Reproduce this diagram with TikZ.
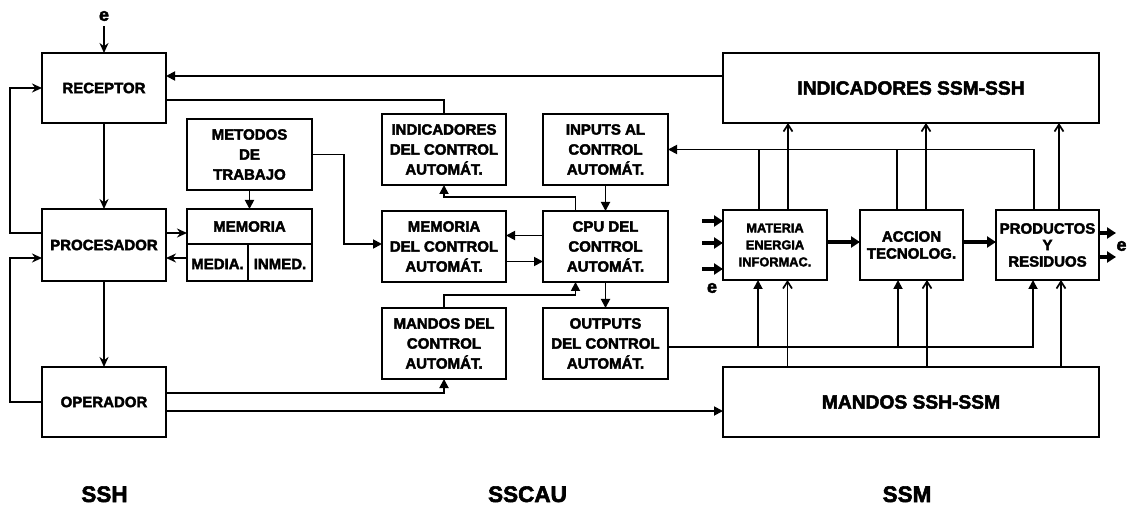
\documentclass[tikz,border=0pt]{standalone}
\usepackage{fontspec}
\setmainfont{Liberation Sans}[BoldFeatures={FakeBold=2.5}]
\usetikzlibrary{arrows.meta,calc}
\begin{document}
\begin{tikzpicture}[x=1pt,y=-1pt,
  box/.style={draw,line width=1.9pt,inner sep=0pt,outer sep=0pt,align=center,
    font=\fontsize{15}{20}\selectfont\bfseries},
  bigbox/.style={box,font=\fontsize{19.2}{22}\selectfont\bfseries},
  ln/.style={line width=1.8pt},
  arr/.style={ln,-{Stealth[length=10pt,width=9pt]}},
  tri/.style={ln,-{Triangle[length=9pt,width=9pt]}},
  barb/.style={ln,-{Straight Barb[length=7pt,width=9pt,line width=1.7pt]}},
  thk/.style={line width=3.4pt,-{Triangle[length=9pt,width=11pt]}},
  lbl/.style={font=\fontsize{15}{18}\selectfont\bfseries,inner sep=0pt},
  elbl/.style={font=\fontsize{18}{20}\selectfont\bfseries,inner sep=0pt},
  sublbl/.style={font=\fontsize{22.5}{26}\selectfont\bfseries,inner sep=0pt,anchor=base},
  ]
\fill[white] (0,0) rectangle (1128,505);
\useasboundingbox (0,0) rectangle (1128,505);

% SSH
\node[box,minimum width=124pt,minimum height=70pt] (rec) at (104,88) {RECEPTOR};
\node[box,minimum width=124pt,minimum height=72pt] (pro) at (104,245) {PROCESADOR};
\node[box,minimum width=124pt,minimum height=70pt] (ope) at (104,402) {OPERADOR};
\node[box,minimum width=125pt,minimum height=71pt] (met) at (249.5,154.5) {METODOS\\DE\\TRABAJO};
\node[box,minimum width=125pt,minimum height=72pt] (mem) at (249.5,245) {};
\node[lbl] (memt) at (249.5,226.5) {MEMORIA};
\node[lbl] (memm) at (217.5,264) {MEDIA.};
\node[lbl] (memi) at (280,264) {INMED.};
\draw[line width=1.9pt] ([yshift=1pt]mem.west) -- ([yshift=1pt]mem.east);
\draw[line width=1.9pt] ([xshift=-1.5pt]mem.south) -- ++(0,-37);

% SSCAU
\node[box,minimum width=124pt,minimum height=71pt] (ind) at (444,149.5) {INDICADORES\\DEL CONTROL\\AUTOMÁT.};
\node[box,minimum width=125pt,minimum height=71pt] (inp) at (605.5,149.5) {INPUTS AL\\CONTROL\\AUTOMÁT.};
\node[box,minimum width=124pt,minimum height=71pt] (memc) at (444,246.5) {MEMORIA\\DEL CONTROL\\AUTOMÁT.};
\node[box,minimum width=125pt,minimum height=71pt] (cpu) at (605.5,246.5) {CPU DEL\\CONTROL\\AUTOMÁT.};
\node[box,minimum width=124pt,minimum height=71pt] (manc) at (444,343.5) {MANDOS DEL\\CONTROL\\AUTOMÁT.};
\node[box,minimum width=125pt,minimum height=71pt] (out) at (605.5,343.5) {OUTPUTS\\DEL CONTROL\\AUTOMÁT.};

% SSM
\node[bigbox,minimum width=376pt,minimum height=70pt] (issm) at (911,88) {INDICADORES SSM-SSH};
\node[box,minimum width=104pt,minimum height=70pt,font=\fontsize{12.8}{17}\selectfont\bfseries] (mat) at (775,245) {MATERIA\\ENERGIA\\INFORMAC.};
\node[box,minimum width=103pt,minimum height=70pt,font=\fontsize{15}{17}\selectfont\bfseries] (acc) at (911.5,245) {ACCION\\TECNOLOG.};
\node[box,minimum width=103pt,minimum height=70pt,font=\fontsize{15}{16.5}\selectfont\bfseries] (prod) at (1047.5,245) {PRODUCTOS\\Y\\RESIDUOS};
\node[bigbox,minimum width=376pt,minimum height=70pt] (mssm) at (911,402) {MANDOS SSH-SSM};

% labels
\node[elbl] (etop) at (104,16) {e};
\node[elbl] (ein) at (712,288) {e};
\node[elbl] (eout) at (1121.5,246) {e};
\node[sublbl] (lssh) at (104.5,502) {SSH};
\node[sublbl] (lscau) at (527.5,502) {SSCAU};
\node[sublbl] (lssm) at (907,502) {SSM};

% SSH connectors
\draw[arr,shorten <=5pt] (etop) -- (rec.north);
\draw[arr] (rec) -- (pro);
\draw[arr] (pro) -- (ope);
\draw[arr] ([yshift=12pt]pro.west) -- ++(-32,0) |- (rec.west);
\draw[arr] (ope.west) -- ++(-32,0) |- ([yshift=-13pt]pro.west);
\draw[arr] ([yshift=12pt]pro.east) -- ([yshift=12pt]mem.west);
\draw[arr] ([yshift=-13pt]mem.west) -- ([yshift=-13pt]pro.east);
\draw[tri] (met) -- (mem);
\draw[tri] (met.east) -| ([xshift=-38pt,yshift=2.5pt]memc.west) -- ([yshift=2.5pt]memc.west);
\draw[ln] ([yshift=-12pt]rec.east) -| (ind.north);
\draw[tri] ([yshift=12pt]issm.west) -- ([yshift=12pt]rec.east);

% SSCAU connectors
\draw[tri] ([xshift=-30pt]cpu.north) -- ++(0,-14) -| (ind.south);
\draw[tri] (inp) -- (cpu);
\draw[tri] ([yshift=11pt]cpu.west) -- ([yshift=11pt]memc.east);
\draw[tri] ([yshift=-15pt]memc.east) -- ([yshift=-15pt]cpu.west);
\draw[tri] (cpu) -- (out);
\draw[tri] (manc.north) -- ++(0,-13) -| ([xshift=-30pt]cpu.south);
\draw[tri] ([yshift=9pt]ope.east) -| (manc.south);
\draw[tri] ([yshift=-9pt]ope.east) -- ([yshift=-9pt]mssm.west);

% SSM connectors
\coordinate (busb) at ([yshift=-3.5pt]out.east);
\coordinate (ma) at ($(mat.south)+(-17,0)$);
\coordinate (aa) at ($(acc.south)+(-13.5,0)$);
\coordinate (pa) at ($(prod.south)+(-14.5,0)$);
\draw[tri] (busb) -| (pa);
\draw[tri] (ma |- busb) -- (ma);
\draw[tri] (aa |- busb) -- (aa);

\coordinate (mb) at ($(mat.south)+(12.5,0)$);
\coordinate (ab) at ($(acc.south)+(15.5,0)$);
\coordinate (pb) at ($(prod.south)+(13.5,0)$);
\draw[barb] (mb |- mssm.north) -- (mb);
\draw[barb] (ab |- mssm.north) -- (ab);
\draw[barb] (pb |- mssm.north) -- (pb);

\coordinate (mt) at ($(mat.north)+(13,0)$);
\coordinate (at) at ($(acc.north)+(14.5,0)$);
\coordinate (pt) at ($(prod.north)+(11.5,0)$);
\draw[barb] (mt) -- (mt |- issm.south);
\draw[barb] (at) -- (at |- issm.south);
\draw[barb] (pt) -- (pt |- issm.south);

\coordinate (mu) at ($(mat.north)+(-16,0)$);
\coordinate (au) at ($(acc.north)+(-14.5,0)$);
\coordinate (pu) at ($(prod.north)+(-13.5,0)$);
\draw[tri] (pu) |- (inp.east);
\draw[ln] (mu) -- (mu |- inp.east);
\draw[ln] (au) -- (au |- inp.east);

\coordinate (in1) at ($(mat.west)+(-21,-24)$);
\coordinate (in2) at ($(mat.west)+(-21,-2)$);
\coordinate (in3) at ($(mat.west)+(-21,24)$);
\draw[thk] (in1) -- (in1 -| mat.west);
\draw[thk] (in2) -- (in2 -| mat.west);
\draw[thk] (in3) -- (in3 -| mat.west);
\draw[thk] ([yshift=3pt]mat.east) -- ([yshift=3pt]acc.west);
\draw[thk] ([yshift=3pt]acc.east) -- ([yshift=3pt]prod.west);
\coordinate (o1) at ($(prod.east)+(17,-12)$);
\coordinate (o2) at ($(prod.east)+(17,12)$);
\draw[thk] (o1 -| prod.east) -- (o1);
\draw[thk] (o2 -| prod.east) -- (o2);
\end{tikzpicture}
\end{document}
